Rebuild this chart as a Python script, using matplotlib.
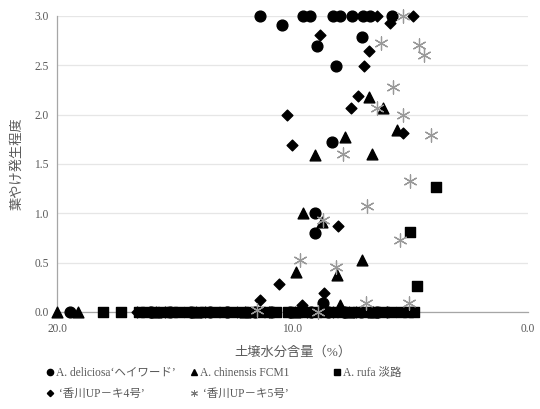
import matplotlib
matplotlib.use("Agg")
import matplotlib.pyplot as plt
from matplotlib.lines import Line2D

plt.rcParams['font.family'] = ['Liberation Serif', 'Noto Sans CJK JP', 'DejaVu Sans']

# ---- data (soil moisture %, leaf scorch severity) ----
deliciosa_x = [11.4, 10.45, 9.55, 9.26, 8.28, 7.98, 7.47, 7.0, 6.71, 5.77,
               8.96, 7.05, 8.15, 8.32, 9.04, 9.04, 8.7,
               19.45, 16.0, 15.2, 14.3, 13.5, 12.8, 11.6, 10.9, 10.1, 9.2, 8.5, 7.8, 7.1, 6.4]
deliciosa_y = [3.0, 2.91, 3.0, 3.0, 3.0, 3.0, 3.0, 3.0, 3.0, 3.0,
               2.70, 2.79, 2.49, 1.72, 1.00, 0.80, 0.09,
               0, 0, 0, 0, 0, 0, 0, 0, 0, 0, 0, 0, 0, 0]

chinensis_x = [6.75, 6.16, 5.56, 7.77, 9.04, 6.62, 9.55, 8.75, 9.85, 8.11, 7.05, 8.0, 8.8,
               20.0, 19.1, 15.8, 14.1, 12.0, 9.9, 7.6, 6.6]
chinensis_y = [2.18, 2.07, 1.84, 1.77, 1.59, 1.60, 1.00, 0.91, 0.41, 0.38, 0.53, 0.07, 0.04,
               0, 0, 0, 0, 0, 0, 0, 0]

rufa_x = [3.91, 5.01, 4.71,
          18.05, 17.3, 16.5, 16.2, 15.9, 15.5, 15.1, 14.8, 14.4, 14.0, 13.7, 13.3,
          12.9, 12.6, 12.1, 11.8, 11.4, 11.0, 10.7, 10.2, 9.8, 9.4, 9.0, 8.6, 8.3,
          7.9, 7.6, 7.2, 6.8, 6.5, 6.1, 5.8, 5.4, 5.1, 4.85]
rufa_y = [1.27, 0.81, 0.26,
          0, 0, 0, 0, 0, 0, 0, 0, 0, 0, 0, 0,
          0, 0, 0, 0, 0, 0, 0, 0, 0, 0, 0, 0, 0,
          0, 0, 0, 0, 0, 0, 0, 0, 0, 0]

up4_x = [8.83, 6.75, 6.96, 7.22, 7.52, 10.23, 10.02, 4.88, 5.86, 6.41, 5.31,
         8.07, 10.57, 11.38, 8.66, 9.6,
         16.6, 15.4, 13.7, 12.35, 11.0, 9.4, 8.3, 7.3, 6.0]
up4_y = [2.81, 2.65, 2.49, 2.19, 2.07, 2.00, 1.69, 3.0, 2.93, 3.0, 1.81,
         0.87, 0.28, 0.12, 0.19, 0.07,
         0, 0, 0, 0, 0, 0, 0, 0, 0]

up5_x = [5.31, 6.24, 4.63, 4.42, 5.73, 6.41, 5.31, 4.12, 7.86, 5.01, 6.84,
         8.7, 5.44, 9.68, 8.15, 6.88, 5.05, 11.5, 8.9]
up5_y = [3.0, 2.73, 2.71, 2.60, 2.28, 2.07, 2.00, 1.79, 1.60, 1.33, 1.07,
         0.93, 0.73, 0.53, 0.46, 0.09, 0.09, 0.02, 0.0]

labels = ["A. deliciosa\u2018ヘイワード\u2019", "A. chinensis FCM1", "A. rufa 淡路",
          " \u2018香川UP－キ4号\u2019", " \u2018香川UP－キ5号\u2019"]

x_ticks = [20.0, 10.0, 0.0]
y_ticks = [0.0, 0.5, 1.0, 1.5, 2.0, 2.5, 3.0]

text_color = "#595959"

fig = plt.figure(figsize=(5.4, 4.09), dpi=100)
ax = fig.add_axes([57/540, 1-312/409, (528-57)/540, (312-16)/409])

ast = (6, 2, 0)
ax.scatter(rufa_x, rufa_y, marker='s', s=55, color='black', zorder=3, clip_on=False)
ax.scatter(deliciosa_x, deliciosa_y, marker='o', s=60, color='black', zorder=3, clip_on=False)
ax.scatter(chinensis_x, chinensis_y, marker='^', s=60, color='black', zorder=3, clip_on=False)
ax.scatter(up4_x, up4_y, marker='D', s=30, color='black', zorder=3, clip_on=False)
ax.scatter(up5_x, up5_y, marker=ast, s=90, color='#999999', linewidths=0.9, zorder=4, clip_on=False)

ax.set_xlim(20.0, 0.0)
ax.set_ylim(0.0, 3.0)
ax.set_xticks(x_ticks)
ax.set_yticks(y_ticks)
ax.set_xticklabels([f"{v:.1f}" for v in x_ticks])
ax.set_yticklabels([f"{v:.1f}" for v in y_ticks])
ax.tick_params(axis='both', length=0, labelsize=8.3, colors=text_color, pad=6)
ax.tick_params(axis='x', pad=8)
ax.grid(axis='y', color='#e6e6e6', linewidth=0.9)
ax.set_axisbelow(True)
for s in ['top', 'right']:
    ax.spines[s].set_visible(False)
for s in ['left', 'bottom']:
    ax.spines[s].set_color('#a6a6a6')
    ax.spines[s].set_linewidth(0.9)

ax.set_xlabel("土壌水分含量（%）", fontsize=9.5, color=text_color, labelpad=8)
ax.set_ylabel("葉やけ発生程度", fontsize=9.5, color=text_color, labelpad=8)

h_circ = Line2D([], [], marker='o', color='black', linestyle='none', markersize=4.5)
h_dia = Line2D([], [], marker='D', color='black', linestyle='none', markersize=3.2)
h_tri = Line2D([], [], marker='^', color='black', linestyle='none', markersize=4.5)
h_ast = Line2D([], [], marker=ast, color='#777777', linestyle='none', markersize=5, markeredgewidth=0.7)
h_sq = Line2D([], [], marker='s', color='black', linestyle='none', markersize=4.5)

cols = [([h_circ, h_dia], [labels[0], labels[3]], 47),
        ([h_tri, h_ast], [labels[1], labels[4]], 191),
        ([h_sq], [labels[2]], 334)]
for hs, ls, xpx in cols:
    leg = fig.legend(hs, ls, loc='upper left', bbox_to_anchor=(xpx/540, 1-367/409),
                     frameon=False, fontsize=8.3, handlelength=0.6, handletextpad=0.2,
                     labelspacing=0.75, borderaxespad=0, borderpad=0)
    for t in leg.get_texts():
        t.set_color(text_color)

fig.savefig("out.png", dpi=100)
